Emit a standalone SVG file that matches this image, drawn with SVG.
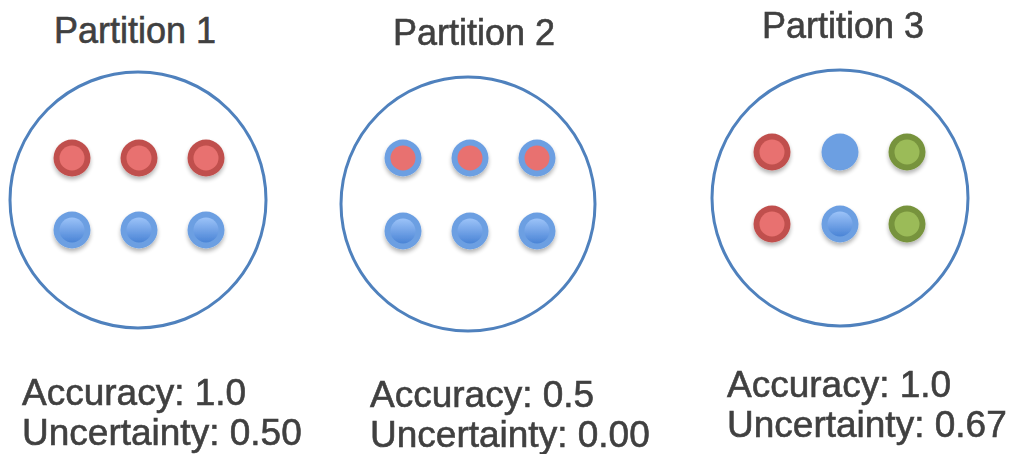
<svg xmlns="http://www.w3.org/2000/svg" width="1013" height="454" viewBox="0 0 1013 454">
  <style>
    .title { font-family: "Liberation Sans", Arial, sans-serif; font-size: 36px; fill: #404040; stroke: #404040; stroke-width: 0.6; text-anchor: middle; }
    .stat { font-family: "Liberation Sans", Arial, sans-serif; font-size: 37px; fill: #404040; stroke: #404040; stroke-width: 0.6; }
    .part { fill: none; stroke: #4f81bd; stroke-width: 3; }
    .red-o { fill: #c0504d; }
    .red-i { fill: #e8716f; }
    .blue-o { fill: #6c9fe2; }
    .blue-i { fill: url(#blueGrad); }
    .grn-o { fill: #77933c; }
    .grn-i { fill: #9bbb59; }
    .dot { filter: url(#shadow); }
  </style>
  <defs>
    <linearGradient id="blueGrad" x1="0" y1="0" x2="0" y2="1">
      <stop offset="0" stop-color="#9cc3f8"/>
      <stop offset="1" stop-color="#4a84d6"/>
    </linearGradient>
    <filter id="shadow" x="-50%" y="-50%" width="200%" height="200%">
      <feGaussianBlur in="SourceAlpha" stdDeviation="2"/>
      <feOffset dx="0" dy="3" result="b"/>
      <feComponentTransfer><feFuncA type="linear" slope="0.3"/></feComponentTransfer>
      <feMerge><feMergeNode/><feMergeNode in="SourceGraphic"/></feMerge>
    </filter>
    <!-- dot styles -->
    <g id="redDot"><circle r="18.5" class="red-o"/><circle r="12.5" class="red-i"/></g>
    <g id="blueDot"><circle r="18.5" class="blue-o"/><circle r="12.5" class="blue-i"/></g>
    <g id="mixDot"><circle r="18.5" class="blue-o"/><circle r="12.5" class="red-i"/></g>
    <g id="grnDot"><circle r="18.5" class="grn-o"/><circle r="12.5" class="grn-i"/></g>
    <g id="flatBlue"><circle r="18.5" class="blue-o"/></g>
  </defs>

  <rect width="1013" height="454" fill="#ffffff"/>

  <g id="partition-1">
    <text class="title" x="135" y="43">Partition 1</text>
    <circle class="part" cx="138" cy="200" r="128"/>
    <g class="dot">
      <use href="#redDot" x="72" y="158"/>
      <use href="#redDot" x="139" y="158"/>
      <use href="#redDot" x="206" y="158"/>
      <use href="#blueDot" x="72" y="230"/>
      <use href="#blueDot" x="139" y="230"/>
      <use href="#blueDot" x="206" y="230"/>
    </g>
    <text class="stat" x="22" y="405">Accuracy: 1.0</text>
    <text class="stat" x="22" y="445">Uncertainty: 0.50</text>
  </g>

  <g id="partition-2">
    <text class="title" x="474" y="45">Partition 2</text>
    <circle class="part" cx="468" cy="204" r="127"/>
    <g class="dot">
      <use href="#mixDot" x="403" y="158"/>
      <use href="#mixDot" x="470" y="158"/>
      <use href="#mixDot" x="537" y="158"/>
      <use href="#blueDot" x="403" y="231"/>
      <use href="#blueDot" x="470" y="231"/>
      <use href="#blueDot" x="537" y="231"/>
    </g>
    <text class="stat" x="370" y="407">Accuracy: 0.5</text>
    <text class="stat" x="370" y="447">Uncertainty: 0.00</text>
  </g>

  <g id="partition-3">
    <text class="title" x="843" y="38">Partition 3</text>
    <circle class="part" cx="840" cy="198" r="128"/>
    <g class="dot">
      <use href="#redDot" x="772" y="152"/>
      <use href="#flatBlue" x="840" y="152"/>
      <use href="#grnDot" x="907" y="152"/>
      <use href="#redDot" x="772" y="224"/>
      <use href="#blueDot" x="840" y="224"/>
      <use href="#grnDot" x="907" y="224"/>
    </g>
    <text class="stat" x="727" y="397">Accuracy: 1.0</text>
    <text class="stat" x="727" y="437">Uncertainty: 0.67</text>
  </g>

  <g id="connectors"/>
</svg>
